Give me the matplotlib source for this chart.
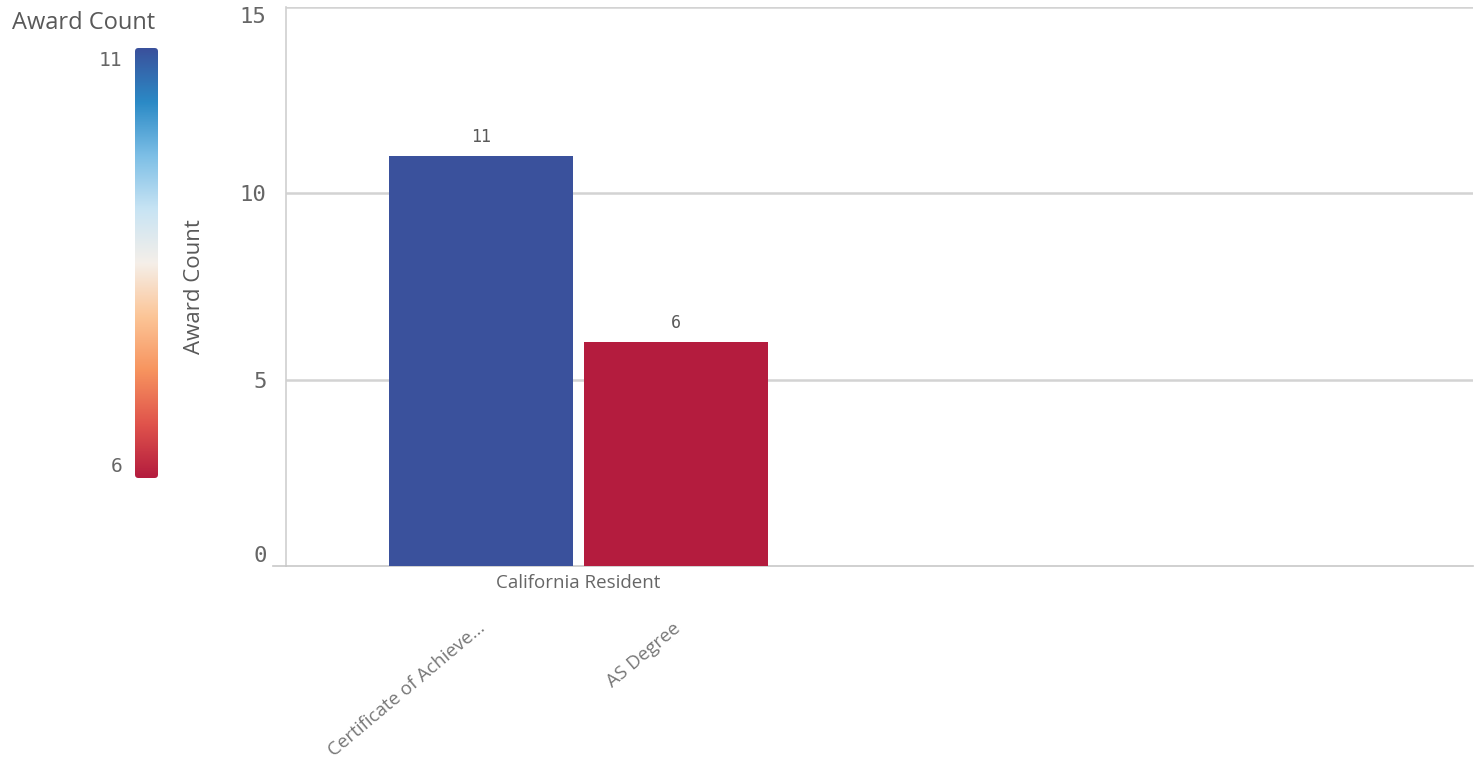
import numpy as np
import matplotlib
matplotlib.use("Agg")
import matplotlib.pyplot as plt
from matplotlib.colors import LinearSegmentedColormap
from matplotlib.patches import FancyBboxPatch

# data
group = "California Resident"
categories = ["Certificate of Achieve...", "AS Degree"]
award_count = [11, 6]
y_ticks = [0, 5, 10, 15]

# qlik-like diverging gradient, low (red) -> high (blue)
grad = LinearSegmentedColormap.from_list("qdiv", [
    "#b41c3e", "#e0544c", "#f7945f", "#fcc597", "#f5efe9",
    "#c8e4f4", "#7dbfe6", "#2b8ac6", "#3a519c"])

vmin, vmax = min(award_count), max(award_count)
colors = [grad((v - vmin) / (vmax - vmin)) for v in award_count]

W, H = 1481, 761
fig = plt.figure(figsize=(W / 100, H / 100), dpi=100)
ax = fig.add_axes([286 / W, 1 - 566 / H, (1473 - 286) / W, (566 - 7) / H])

x = np.arange(len(categories))
ax.bar(x, award_count, width=0.945, color=colors, zorder=3)
for xi, v in zip(x, award_count):
    ax.text(xi, v + 0.27, str(v), ha="center", va="bottom",
            fontsize=12, color="#595959", family="DejaVu Sans Mono")

ax.set_xlim(-1.0, 5.09)
ax.set_ylim(0, 15)
ax.set_yticks(y_ticks)
ax.set_yticklabels([str(t) for t in y_ticks], family="DejaVu Sans Mono",
                   fontsize=16, color="#666666")
labs = ax.get_yticklabels()
labs[0].set_va("bottom")
labs[-1].set_va("top")
ax.tick_params(axis="y", length=0, pad=14)
ax.tick_params(axis="x", length=0)
ax.set_xticks([])
for yv in y_ticks[1:]:
    ax.axhline(yv, color="#d3d3d3", lw=1.8, zorder=1)
for s in ["top", "right"]:
    ax.spines[s].set_visible(False)
ax.spines["left"].set_color("#d0d0d0")
ax.spines["bottom"].set_color("#c8c8c8")
ax.spines["left"].set_linewidth(1.2)
ax.spines["bottom"].set_linewidth(1.2)
ax.plot([-1.067, -1.0], [0, 0], color="#c8c8c8", lw=1.2, clip_on=False)

# group label + rotated category labels
ax.text(np.mean(x), -0.22, group, ha="center", va="top",
        fontsize=13.5, color="#666666", family="Open Sans")
for xi, c in zip(x, categories):
    ax.text(xi - 0.02, -1.42, c, ha="right", va="top", rotation=40,
            rotation_mode="anchor", fontsize=13.5, color="#777777",
            family="Open Sans")

fig.text(195 / W, 1 - 287 / H, "Award Count", rotation=90, ha="center",
         va="center", fontsize=16, color="#595959", family="Open Sans")

# legend gradient bar
cax = fig.add_axes([135 / W, 1 - 478 / H, 23 / W, 430 / H])
img = cax.imshow(np.linspace(1, 0, 256).reshape(-1, 1), cmap=grad,
                 aspect="auto", extent=[0, 1, 0, 1])
clip = FancyBboxPatch((0, 0), 1, 1, boxstyle="round,pad=0,rounding_size=0.15",
                      transform=cax.transAxes, facecolor="none",
                      edgecolor="none", mutation_aspect=23 / 430)
cax.add_patch(clip)
img.set_clip_path(clip)
cax.axis("off")
fig.text(12 / W, 1 - 23 / H, "Award Count", ha="left", va="center",
         fontsize=17, color="#595959", family="Open Sans")
fig.text(122 / W, 1 - 60 / H, str(vmax), ha="right", va="center",
         fontsize=14, color="#666666", family="DejaVu Sans Mono")
fig.text(122 / W, 1 - 467 / H, str(vmin), ha="right", va="center",
         fontsize=14, color="#666666", family="DejaVu Sans Mono")

fig.savefig("out.png", dpi=100)
